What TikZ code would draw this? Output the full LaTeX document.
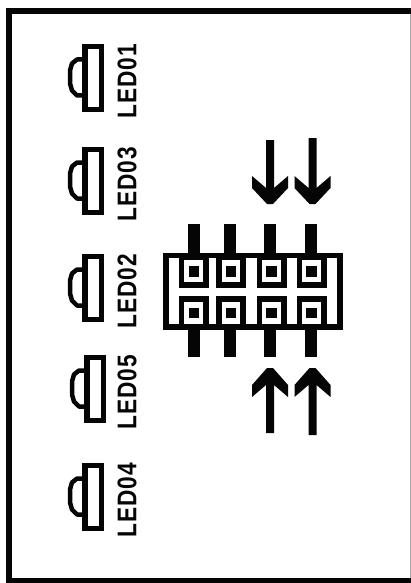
\documentclass[tikz,border=0pt]{standalone}
\usepackage{fontspec}
\setmainfont{Liberation Sans}
\newfontfamily\ledfont[LetterSpace=4]{Liberation Sans Bold}
\usepackage{graphicx}
\definecolor{ink}{RGB}{5,5,5}
\newcommand{\ledunit}[4]{% x-left of case, y-top, label, name
  \fill[ink] (#1,#2) rectangle ++(22,68);
  \fill[white] (#1+6,#2+5) rectangle ++(11,58);
  \draw[ink,line width=4.5pt,line join=round] (#1,#2+15.5) -- ++(-5,0) -- ++(-5,4) -- ++(-2,7) -- ++(0,13) -- ++(2,7) -- ++(5,5) -- ++(5,0);
  \node[ledlabel] (#4) at (127,#2+37) {\scalebox{.84}[1]{#3}};
}
\newcommand{\downarrowshape}[2]{%
  \fill[ink] (#1-4,#2) -- (#1+4,#2) -- (#1+4,188) -- (#1+18,176) -- (#1+18,188) -- (#1+3,204) -- (#1-3,204) -- (#1-18,188) -- (#1-18,176) -- (#1-4,188) -- cycle;
}
\newcommand{\uparrowshape}[2]{%
  \fill[ink] (#1-4,#2) -- (#1+4,#2) -- (#1+4,385) -- (#1+18,397) -- (#1+18,385) -- (#1+3,368) -- (#1-3,368) -- (#1-18,385) -- (#1-18,397) -- (#1-4,385) -- cycle;
}
\begin{document}
\begin{tikzpicture}[x=1pt,y=-1pt,
  ledlabel/.style={rotate=90,inner sep=0pt,font=\fontsize{27}{28}\ledfont,text=ink}]
\useasboundingbox (0,0) rectangle (411,583);
\fill[white] (0,0) rectangle (411,583);
% frame
\draw[gray!70,line width=1pt] (410.5,14) -- (410.5,578);
\fill[ink] (6,8) rectangle (411,14);
\fill[ink] (6,8) rectangle (12,583);
\fill[ink] (6,578) rectangle (411,583);
% LEDs
\ledunit{82}{44}{LED01}{led01}
\ledunit{82}{147}{LED03}{led03}
\ledunit{82}{254}{LED02}{led02}
\ledunit{84}{355}{LED05}{led05}
\ledunit{82}{463}{LED04}{led04}
% pins
\foreach \p in {194,230,270,311}{
  \fill[ink] (\p-6,224) rectangle (\p+6,254);
  \fill[ink] (\p-6,329) rectangle (\p+6,357);
}
% connector body
\fill[ink] (163,253) rectangle (343,330);
\fill[white] (169,258) rectangle (337,324);
% sockets
\foreach \s in {179,216.3,256.7,296.7}{
  \fill[ink] (\s,258) rectangle (\s+30,288);
  \fill[white] (\s+5.3,260) rectangle (\s+24,282);
  \fill[ink] (\s+9.5,266) rectangle (\s+20,277);
  \fill[ink] (\s,296) rectangle (\s+30,324);
  \fill[white] (\s+5.3,302) rectangle (\s+24,324);
  \fill[ink] (\s+9.5,308) rectangle (\s+20,318);
}
% arrows
\downarrowshape{270}{140}
\downarrowshape{312.5}{138}
\uparrowshape{270}{433}
\uparrowshape{312.5}{435}
\end{tikzpicture}
\end{document}
